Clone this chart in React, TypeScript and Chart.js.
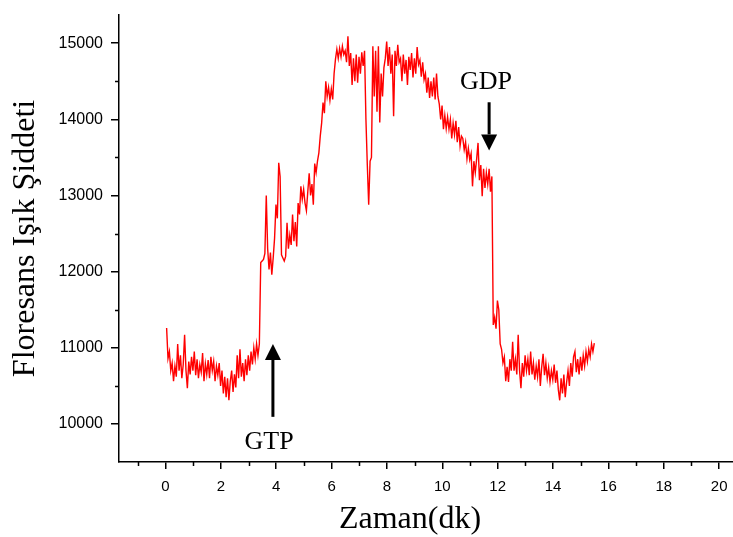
import React, { useEffect, useRef } from "react";
import { Chart, registerables } from "chart.js";

Chart.register(...registerables);

// time axis sampling (minutes)
const timeStart = 0.04;
const timeStep = 0.05;

// fluorescence intensity readings, in time order
const baselineBefore = [
  11260, 10860, 10950, 10700, 10800, 10560, 10760, 10620, 11050, 10700,
  10900, 10600, 10780, 11170, 10700, 10470, 10820, 10650, 10880, 10700,
  10950, 10640, 10850, 10600, 10780, 10680, 10930, 10560, 10790, 10650,
  10840, 10600, 10880, 10700, 10820, 10560, 10760, 10640, 10800, 10500,
  10700, 10400, 10620, 10350, 10600, 10310, 10560, 10700, 10420, 10650,
  10480, 10900, 10600, 10980, 10620, 10800, 10560, 10850, 10640, 10900,
  10700, 10950, 10780, 11000, 10850, 11050, 10900, 11050,
];
const afterGTP = [
  12120, 12140, 12160, 12240, 13000, 12300, 12030, 12250, 11960, 12180,
  12440, 12880, 12700, 13430, 13250, 12220, 12180, 12140, 12200, 12640,
  12300, 12480, 12350, 12750, 12400, 12650, 12330, 12900, 12750, 13120,
  12950, 13080, 12900, 12800, 13050, 13290, 13000, 13150, 12880, 13420,
  13300, 13450, 13560, 13780, 13950, 14220, 14080, 14500, 14300, 14420,
  14250, 14400,
];
const plateau = [
  14260, 14600, 14790, 14920, 14800, 14930, 14820, 14960, 14850, 14900,
  14750, 15090, 14700, 14870, 14450, 14800, 14500, 14850, 14480, 14820,
  14600, 14880, 14700, 14900, 14000, 13400, 12880, 13450, 13500, 14960,
  14300, 14900, 14100, 14960, 13960, 14600, 14300, 14680, 14800, 15020,
  14700, 14950, 14600, 14850, 14040, 14900, 14700, 14980, 14750, 14800,
  14500, 14850, 14600, 14780, 14450, 14820, 14650, 14870, 14550, 14800,
  14600, 14950, 14720, 14780, 14560, 14750, 14520, 14600, 14350, 14550,
];
const decline = [
  14280, 14500, 14300, 14550, 14260, 14600, 14300, 14200, 14000, 14180,
  13870, 14050, 13880, 14030, 13870, 14000, 13750, 13950, 13800, 13980,
  13700, 13900, 13650, 13780, 13750, 13600, 13700, 13480, 13620, 13470,
  13550, 13120, 13450, 13300, 13480, 13690, 13200, 13400, 12990, 13350,
  13100, 13300, 13150, 13350, 13050, 13250,
];
const baselineAfter = [
  11300, 11400, 11250, 11620,
  11500, 11050, 10980, 10800, 10880, 10560, 10750, 10550, 10850, 10700,
  11080, 10700, 10850, 10650, 11170, 10700, 10470, 10800, 10620, 10900,
  10700, 10850, 10640, 10950, 10650, 10800, 10580, 10760, 10620, 10850,
  10500, 10750, 10920, 10640, 10800, 10600, 10740, 10550, 10700, 10580,
  10780, 10540, 10700, 10450, 10310, 10600, 10400, 10650, 10350, 10550,
  10700, 10500, 10800, 10620, 10880, 10950, 10680, 10850, 10650, 10880,
  10700, 10900, 10760, 10950, 10820, 10980, 10880, 11050, 10950, 11060,
];

const xMajorTicks = [0, 2, 4, 6, 8, 10, 12, 14, 16, 18, 20];
const xMinorTicks = [-1, 1, 3, 5, 7, 9, 11, 13, 15, 17, 19];
const yMajorTicks = [10000, 11000, 12000, 13000, 14000, 15000];
const yMinorTicks = [10500, 11500, 12500, 13500, 14500];

const xTitle = "Zaman(dk)";
const yTitle = "Floresans Işık Şiddeti";

const markerLabels = ["GTP", "GDP"];
const markerX = [3.88, 11.69];
const markerTail = [10093, 14224];
const markerTip = [11050, 13592];
const markerLabelX = [3.74, 11.58];
const markerLabelY = [9760, 14483];

const intensity = [
  ...baselineBefore,
  ...afterGTP,
  ...plateau,
  ...decline,
  ...baselineAfter,
];

const decorations = {
  id: "decorations",
  afterDraw(chart: any) {
    const { ctx, chartArea, scales } = chart;
    const x = scales.x;
    const y = scales.y;
    ctx.save();
    ctx.strokeStyle = "#000";
    ctx.fillStyle = "#000";
    ctx.lineWidth = 1.5;
    ctx.beginPath();
    xMinorTicks.forEach((v) => {
      const px = Math.round(x.getPixelForValue(v)) + 0.5;
      ctx.moveTo(px, chartArea.bottom);
      ctx.lineTo(px, chartArea.bottom + 4);
    });
    yMinorTicks.forEach((v) => {
      const py = Math.round(y.getPixelForValue(v)) + 0.5;
      ctx.moveTo(chartArea.left, py);
      ctx.lineTo(chartArea.left - 4, py);
    });
    ctx.stroke();

    markerLabels.forEach((label, i) => {
      const px = x.getPixelForValue(markerX[i]);
      const tailY = y.getPixelForValue(markerTail[i]);
      const tipY = y.getPixelForValue(markerTip[i]);
      const dir = Math.sign(tipY - tailY);
      const headLen = 16;
      const headHalf = 8;
      ctx.lineWidth = 3;
      ctx.beginPath();
      ctx.moveTo(px, tailY);
      ctx.lineTo(px, tipY - dir * headLen);
      ctx.stroke();
      ctx.beginPath();
      ctx.moveTo(px, tipY);
      ctx.lineTo(px - headHalf, tipY - dir * headLen);
      ctx.lineTo(px + headHalf, tipY - dir * headLen);
      ctx.closePath();
      ctx.fill();
      ctx.font = '26px "Liberation Serif"';
      ctx.textAlign = "center";
      ctx.textBaseline = "middle";
      ctx.fillText(
        label,
        x.getPixelForValue(markerLabelX[i]),
        y.getPixelForValue(markerLabelY[i])
      );
    });

    ctx.font = '32px "Liberation Serif"';
    ctx.textAlign = "center";
    ctx.textBaseline = "alphabetic";
    ctx.fillText(xTitle, (chartArea.left + chartArea.right) / 2 - 16, 528);
    ctx.restore();
  },
};

export default function App() {
  const canvasRef = useRef<HTMLCanvasElement | null>(null);

  useEffect(() => {
    if (!canvasRef.current) return;
    Chart.defaults.font.family = '"Liberation Sans", Arial, sans-serif';
    const points = intensity.map((v, i) => ({ x: timeStart + i * timeStep, y: v }));
    const chart = new Chart(canvasRef.current, {
      type: "line",
      data: {
        datasets: [
          {
            data: points,
            borderColor: "#ff0000",
            borderWidth: 1.4,
            pointRadius: 0,
            tension: 0,
            fill: false,
          },
        ],
      },
      options: {
        animation: false,
        responsive: false,
        maintainAspectRatio: false,
        layout: { padding: { top: 15, right: 0, left: 0, bottom: 0 } },
        plugins: {
          legend: { display: false },
          tooltip: { enabled: false },
        },
        scales: {
          x: {
            type: "linear",
            min: -1.68,
            max: 20.5,
            afterBuildTicks: (scale: any) => {
              scale.ticks = xMajorTicks.map((v) => ({ value: v }));
            },
            afterFit: (scale: any) => {
              scale.height = 75;
              scale.paddingLeft = 0;
              scale.paddingRight = 0;
            },
            grid: {
              drawOnChartArea: false,
              drawTicks: true,
              tickLength: 7,
              color: "#000",
              lineWidth: 1.5,
            },
            border: { display: true, color: "#000", width: 1.5 },
            ticks: {
              color: "#000",
              padding: 9,
              maxRotation: 0,
              autoSkip: false,
              font: { size: 15, family: '"Liberation Sans"' },
              callback: (v: any) => String(v),
            },
          },
          y: {
            type: "linear",
            min: 9500,
            max: 15370,
            afterBuildTicks: (scale: any) => {
              scale.ticks = yMajorTicks.map((v) => ({ value: v }));
            },
            afterFit: (scale: any) => {
              scale.width = 119;
              scale.paddingTop = 0;
              scale.paddingBottom = 0;
            },
            grid: {
              drawOnChartArea: false,
              drawTicks: true,
              tickLength: 8,
              color: "#000",
              lineWidth: 1.5,
            },
            border: { display: true, color: "#000", width: 1.5 },
            ticks: {
              color: "#000",
              padding: 8,
              autoSkip: false,
              font: { size: 16, family: '"Liberation Sans"' },
              callback: (v: any) => String(v),
            },
            title: {
              display: true,
              text: yTitle,
              color: "#000",
              padding: { top: 6, bottom: 0 },
              font: { size: 32, family: '"Liberation Serif"' },
            },
          },
        },
      },
      plugins: [decorations],
    });
    return () => chart.destroy();
  }, []);

  return (
    <div style={{ position: "absolute", left: 0, top: 0, width: 733, height: 537, background: "#fff" }}>
      <canvas ref={canvasRef} width={733} height={537} />
    </div>
  );
}
